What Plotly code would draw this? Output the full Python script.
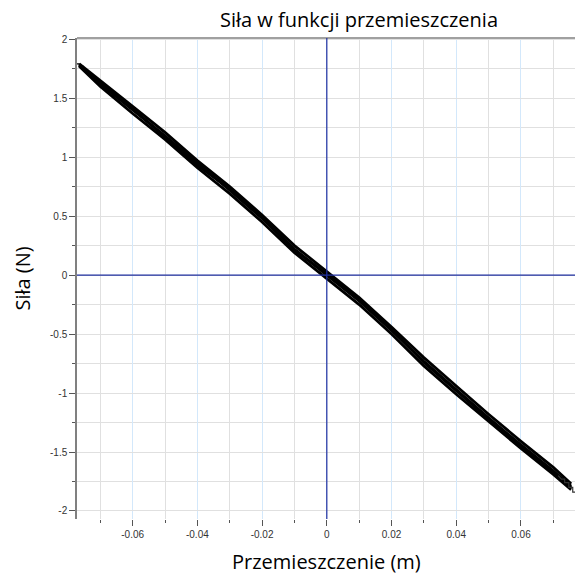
import plotly.graph_objects as go

# Displacement grid (m)
x_pos = [-0.0765, -0.07, -0.06, -0.05, -0.04, -0.03, -0.02, -0.01, 0.0,
         0.01, 0.02, 0.03, 0.04, 0.05, 0.06, 0.07, 0.0755]

# Force (N) for several sweeps
sweep_a = [1.79, 1.65, 1.43, 1.21, 0.97, 0.75, 0.51, 0.25, 0.03,
           -0.19, -0.44, -0.70, -0.94, -1.18, -1.41, -1.63, -1.77]
sweep_b = [1.77, 1.60, 1.37, 1.15, 0.91, 0.69, 0.45, 0.19, -0.03,
           -0.25, -0.50, -0.77, -1.01, -1.24, -1.47, -1.69, -1.82]
sweep_c = [1.78, 1.62, 1.40, 1.18, 0.95, 0.72, 0.48, 0.22, 0.00,
           -0.22, -0.47, -0.73, -0.97, -1.21, -1.44, -1.66, -1.80]
sweep_d = [1.78, 1.63, 1.41, 1.17, 0.93, 0.73, 0.49, 0.21, 0.01,
           -0.21, -0.46, -0.74, -0.98, -1.22, -1.45, -1.67, -1.79]

# Stair-step ends of the record
end_top_x = [-0.0772, -0.0765, -0.0765, -0.0752, -0.0752, -0.0740]
end_top_y = [1.79, 1.79, 1.77, 1.77, 1.75, 1.74]
end_bot_x = [0.0715, 0.0725, 0.0735, 0.0735, 0.0748, 0.0748, 0.0760, 0.0760, 0.0768]
end_bot_y = [-1.70, -1.73, -1.73, -1.76, -1.76, -1.80, -1.80, -1.84, -1.84]

x_ticks = [-0.06, -0.04, -0.02, 0, 0.02, 0.04, 0.06]
x_tick_text = ["-0.06", "-0.04", "-0.02", "0", "0.02", "0.04", "0.06"]
y_ticks = [-2, -1.5, -1, -0.5, 0, 0.5, 1, 1.5, 2]
y_tick_text = ["-2", "-1.5", "-1", "-0.5", "0", "0.5", "1", "1.5", "2"]

fig = go.Figure()
for ys in [sweep_a, sweep_b, sweep_c, sweep_d]:
    fig.add_trace(go.Scatter(x=x_pos, y=ys, mode="lines",
                             line=dict(color="black", width=2.8),
                             showlegend=False, hoverinfo="skip"))
fig.add_trace(go.Scatter(x=end_top_x, y=end_top_y, mode="lines",
                         line=dict(color="black", width=1.2),
                         showlegend=False, hoverinfo="skip"))
fig.add_trace(go.Scatter(x=end_bot_x, y=end_bot_y, mode="lines",
                         line=dict(color="#333333", width=1.2),
                         showlegend=False, hoverinfo="skip"))

tickfont = dict(family="Liberation Sans, Arial, sans-serif", size=10, color="#333333")
title_family = "Open Sans, Noto Sans, sans-serif"
zero_col = "#1f2f9f"

fig.update_layout(
    width=580, height=577,
    paper_bgcolor="white", plot_bgcolor="white",
    margin=dict(l=77, r=5, t=38, b=58),
    title=dict(text="Siła w funkcji przemieszczenia",
               x=359 / 580, xanchor="center", y=1 - 20 / 577, yanchor="middle",
               font=dict(family=title_family, size=20, color="black")),
    xaxis=dict(range=[-0.0772, 0.0767], tickvals=x_ticks, ticktext=x_tick_text,
               showgrid=True, gridcolor="#d3e8fb", gridwidth=1,
               zeroline=False,
               showline=False, ticks="outside", ticklen=6, tickcolor="#555555",
               tickfont=tickfont,
               minor=dict(dtick=0.01, tick0=0, showgrid=True, gridcolor="#e0e0e0",
                          ticks="outside", ticklen=3, tickcolor="#555555")),
    yaxis=dict(range=[-2.068, 2.01], tickvals=y_ticks, ticktext=y_tick_text,
               showgrid=True, gridcolor="#e0e0e0", gridwidth=1,
               zeroline=False,
               showline=True, linecolor="#808080", linewidth=1.5,
               ticks="outside", ticklen=6, tickcolor="#555555",
               tickfont=tickfont,
               minor=dict(dtick=0.25, tick0=0, showgrid=True, gridcolor="#e0e0e0",
                          ticks="outside", ticklen=3, tickcolor="#555555")),
    shapes=[
        dict(type="line", xref="paper", yref="paper", x0=0, x1=1, y0=1, y1=1,
             line=dict(color="#a0a0a0", width=2)),
        dict(type="line", xref="paper", yref="y", x0=0, x1=1, y0=0, y1=0,
             layer="above", line=dict(color=zero_col, width=1.2)),
        dict(type="line", xref="x", yref="paper", x0=0, x1=0, y0=0, y1=1,
             layer="above", line=dict(color=zero_col, width=1.2)),
    ],
    annotations=[
        dict(text="Przemieszczenie (m)", xref="paper", yref="paper",
             x=0.5, y=-42 / 481, xanchor="center", yanchor="middle", showarrow=False,
             font=dict(family=title_family, size=20, color="black")),
        dict(text="Siła (N)", xref="paper", yref="paper",
             x=(22 - 77) / 498, y=0.5, xanchor="center", yanchor="middle", showarrow=False,
             textangle=-90,
             font=dict(family=title_family, size=20, color="black")),
    ],
)

fig.write_html("out.html", config={"displayModeBar": False},
               post_script="document.body.style.margin='0';document.body.style.overflow='hidden';")
